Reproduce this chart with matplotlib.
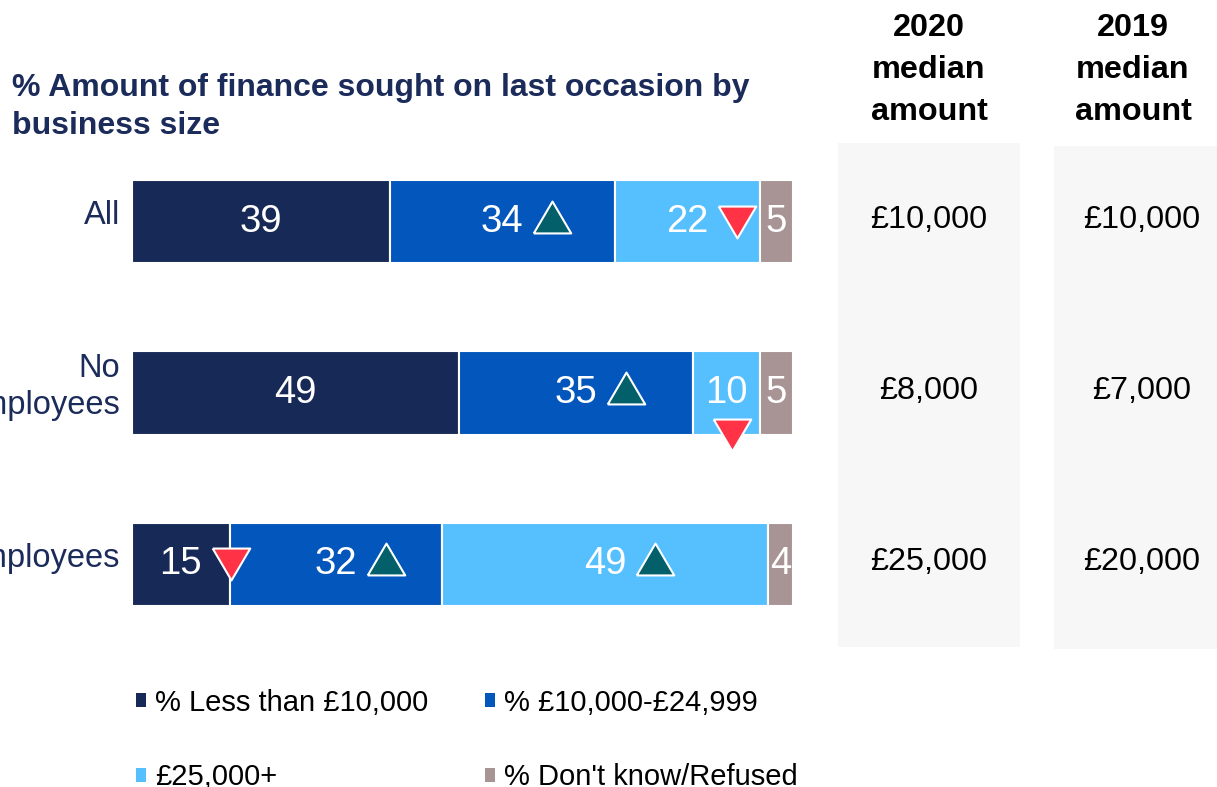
import matplotlib
matplotlib.use("Agg")
import matplotlib.pyplot as plt
import matplotlib.transforms as mtransforms
from matplotlib.patches import Rectangle

plt.rcParams['font.family'] = ['Liberation Sans', 'DejaVu Sans']

# ---------------- data ----------------
categories = ["All", "No\nemployees", "Employees"]
series_names = ["% Less than £10,000", "% £10,000-£24,999", "£25,000+", "% Don't know/Refused"]
less_10k = [39.0, 49.4, 14.8]
from_10k_25k = [34.0, 35.4, 32.1]
over_25k = [22.0, 10.2, 49.3]
dont_know = [5.0, 5.0, 3.8]
labels_less_10k = ["39", "49", "15"]
labels_10k_25k = ["34", "35", "32"]
labels_over_25k = ["22", "10", "49"]
labels_dont_know = ["5", "5", "4"]
# significance markers: (row, series index, direction)
sig_markers = [(0, 1, "up"), (0, 2, "down"),
               (1, 1, "up"), (1, 2, "down"),
               (2, 0, "down"), (2, 1, "up"), (2, 2, "up")]
median_2020 = ["£10,000", "£8,000", "£25,000"]
median_2019 = ["£10,000", "£7,000", "£20,000"]
header_2020 = "2020\nmedian\namount"
header_2019 = "2019\nmedian\namount"
title = "% Amount of finance sought on last occasion by\nbusiness size"

colors = ["#172a57", "#0256bc", "#56c0ff", "#a89495"]
navy = "#1b2b5a"
up_color = "#03606a"
down_color = "#ff3246"

W, H = 1217, 787
fig = plt.figure(figsize=(W / 100, H / 100), dpi=100)

def fx(px):
    return px / W

def fy(py):
    return 1 - py / H

# right panels (behind everything)
fig.patches.append(Rectangle((fx(838), fy(647)), fx(1020) - fx(838), fy(143) - fy(647),
                             transform=fig.transFigure, facecolor="#f7f7f7",
                             edgecolor="none", zorder=-5))
fig.patches.append(Rectangle((fx(1054), fy(649)), fx(1240) - fx(1054), fy(146) - fy(649),
                             transform=fig.transFigure, facecolor="#f7f7f7",
                             edgecolor="none", zorder=-5))

# main axes: x 132..793 px, y 136..650 px
ax = fig.add_axes([fx(132), fy(650), fx(793) - fx(132), fy(136) - fy(650)])
ax.set_xlim(0, 100)
ax.set_ylim(2.5, -0.5)
ax.axis("off")
ax.set_zorder(2)

series = [less_10k, from_10k_25k, over_25k, dont_know]
series_labels = [labels_less_10k, labels_10k_25k, labels_over_25k, labels_dont_know]
ypos = list(range(len(categories)))
lefts = [0.0] * len(categories)
centers = {}
for si, (vals, labs) in enumerate(zip(series, series_labels)):
    ax.barh(ypos, vals, left=lefts, height=0.485, color=colors[si],
            edgecolor="white", linewidth=1.5, label=series_names[si])
    for r in ypos:
        c = lefts[r] + vals[r] / 2
        centers[(r, si)] = c
        ax.text(c, r, labs[r], color="white", fontsize=27.5,
                ha="center", va="center")
    lefts = [l + v for l, v in zip(lefts, vals)]

# triangles
tri_up = [(-1, -0.85), (1, -0.85), (0, 0.85), (-1, -0.85)]
tri_dn = [(-1, 0.85), (1, 0.85), (0, -0.85), (-1, 0.85)]
for (r, si, d) in sig_markers:
    c = centers[(r, si)]
    dx_px = 50
    dy_px = 5 if d == "up" else 0
    if (r, si) == (1, 2):
        dx_px, dy_px = 6, -42
    off = mtransforms.ScaledTranslation(dx_px / 100, dy_px / 100, fig.dpi_scale_trans)
    ax.plot([c], [r], marker=tri_up if d == "up" else tri_dn, markersize=27,
            color=up_color if d == "up" else down_color,
            markeredgecolor="white", markeredgewidth=1.5,
            transform=ax.transData + off, clip_on=False, zorder=5)

# category labels
for r, cat in enumerate(categories):
    off = mtransforms.ScaledTranslation(-12 / 100, 6 / 100, fig.dpi_scale_trans)
    ax.text(0, r, cat, color=navy, fontsize=23.5, ha="right", va="center",
            linespacing=1.25, transform=ax.transData + off, clip_on=False)

# title
fig.text(fx(12), fy(107), title, color=navy, fontsize=23, fontweight="bold",
         ha="left", va="center", linespacing=1.36)

fig.text(fx(929), fy(70), header_2020, fontsize=23.3, fontweight="bold",
         ha="center", va="center", linespacing=1.5, color="black")
fig.text(fx(1133), fy(70), header_2019, fontsize=23.3, fontweight="bold",
         ha="center", va="center", linespacing=1.5, color="black")

blend = mtransforms.blended_transform_factory(fig.transFigure, ax.transData)
for r in ypos:
    off = mtransforms.ScaledTranslation(0, 2 / 100, fig.dpi_scale_trans)
    ax.text(fx(929), r, median_2020[r], fontsize=23.3, ha="center", va="center",
            color="black", transform=blend + off, clip_on=False)
    ax.text(fx(1142), r, median_2019[r], fontsize=23.3, ha="center", va="center",
            color="black", transform=blend + off, clip_on=False)

# legend (row-wise order)
handles, leg_labels = ax.get_legend_handles_labels()
order = [0, 2, 1, 3]
leg = fig.legend([handles[i] for i in order], [leg_labels[i] for i in order],
                 loc="upper left", bbox_to_anchor=(fx(124), fy(677)),
                 ncol=2, frameon=False, fontsize=21, handlelength=0.35,
                 handleheight=0.35, handletextpad=0.3, columnspacing=1.95,
                 labelspacing=1.6, borderaxespad=0)
for h in leg.legend_handles:
    h.set_edgecolor("none")

fig.savefig("out.png", dpi=100)
